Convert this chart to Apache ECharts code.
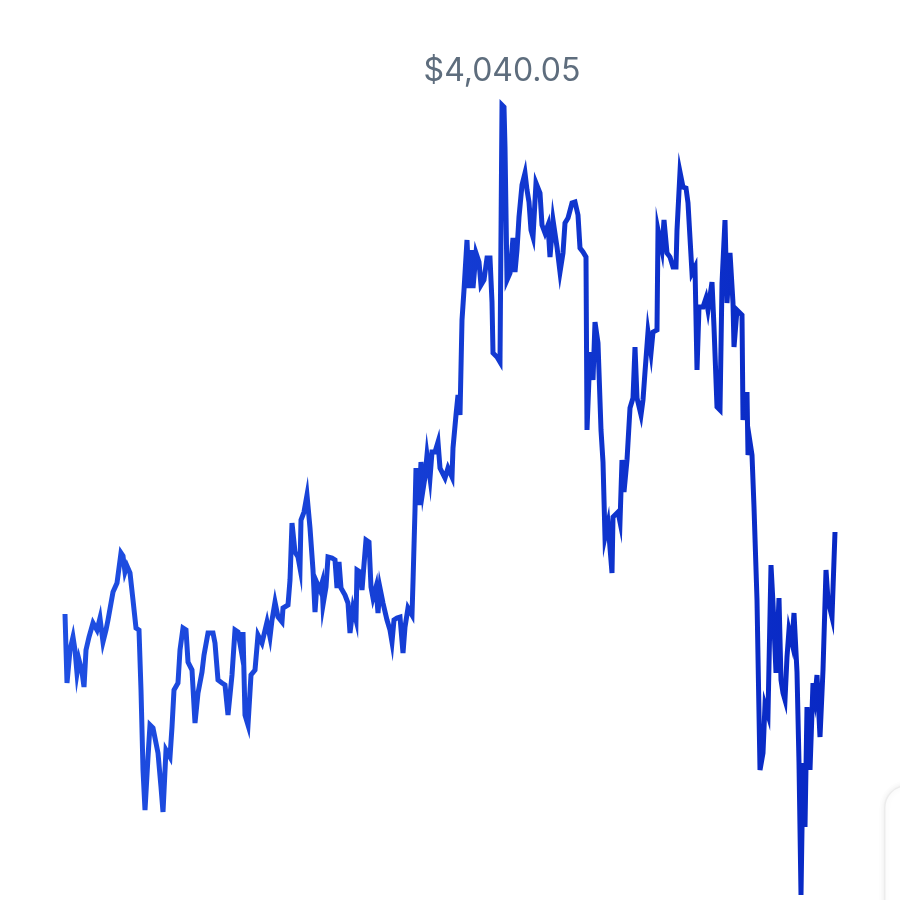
<!DOCTYPE html>
<html>
<head>
<meta charset="utf-8">
<script src="https://cdn.jsdelivr.net/npm/echarts@6/dist/echarts.min.js"></script>
<style>
  html, body { margin: 0; padding: 0; background: #ffffff; }
  #chart { width: 900px; height: 900px; }
</style>
</head>
<body>
<div id="chart"></div>
<script>
const days = [
  0, 2, 5, 8, 10, 12, 14, 17, 19, 21, 24, 28, 32, 35, 38, 41, 43, 48, 52, 56,
  58, 60, 62, 65, 68, 71, 74, 76, 78, 80, 83, 85, 88, 90, 93, 96, 98, 101, 105, 107,
  109, 113, 115, 118, 121, 123, 127, 130, 133, 137, 139, 143, 148, 150, 153, 157, 160, 163, 167, 170,
  173, 177, 178, 180, 183, 186, 190, 193, 197, 202, 205, 207, 210, 213, 217, 218, 223, 225, 227, 228,
  230, 233, 235, 236, 239, 242, 244, 245, 248, 250, 252, 255, 257, 258, 261, 263, 267, 270, 272, 274,
  276, 280, 283, 285, 288, 291, 292, 295, 297, 298, 301, 304, 306, 308, 311, 313, 315, 318, 320, 322,
  325, 327, 329, 332, 335, 338, 340, 343, 347, 348, 350, 351, 354, 356, 358, 360, 362, 365, 367, 370,
  373, 375, 380, 383, 387, 388, 391, 393, 395, 397, 399, 402, 404, 407, 408, 411, 414, 416, 419, 422,
  425, 427, 428, 432, 435, 437, 439, 440, 442, 445, 448, 450, 452, 454, 457, 460, 462, 464, 466, 468,
  471, 473, 475, 477, 480, 483, 485, 488, 490, 492, 495, 498, 500, 503, 507, 510, 513, 515, 518, 521,
  522, 525, 528, 530, 533, 536, 538, 540, 543, 547, 548, 553, 555, 557, 559, 562, 565, 568, 570, 572,
  576, 578, 580, 583, 586, 588, 592, 593, 597, 599, 602, 605, 608, 611, 612, 615, 618, 621, 623, 627,
  630, 632, 634, 638, 641, 643, 647, 649, 652, 655, 657, 660, 662, 665, 668, 669, 672, 674, 677, 678,
  682, 683, 685, 687, 689, 692, 695, 698, 700, 703, 706, 708, 711, 714, 716, 718, 720, 722, 724, 727,
  729, 732, 734, 736, 738, 740, 742, 745, 748, 750, 752, 755, 758, 761, 763, 767, 770
];
// Price in USD at each sampled day
const prices = [
  3022, 2884, 2950, 2976, 2950, 2904, 2930, 2906, 2876, 2950, 2976, 3004, 2990, 3014, 2966, 2990, 3010, 3066, 3084, 3144,
  3138, 3106, 3118, 3104, 3050, 2994, 2990, 2870, 2710, 2630, 2736, 2800, 2794, 2796, 2744, 2676, 2626, 2750, 2736, 2796,
  2870, 2884, 2950, 2994, 2990, 2926, 2910, 2804, 2864, 2906, 2940, 2984, 2984, 2964, 2890, 2884, 2880, 2820, 2900, 2990,
  2986, 2940, 2986, 2820, 2800, 2900, 2910, 2980, 2964, 3006, 2976, 3010, 3046, 3016, 3006, 3034, 3040, 3090, 3204, 3200,
  3146, 3136, 3114, 3210, 3226, 3260, 3260, 3194, 3110, 3026, 3084, 3070, 3084, 3040, 3076, 3136, 3134, 3130, 3074, 3126,
  3074, 3060, 3044, 2984, 3034, 3010, 3110, 3106, 3070, 3096, 3170, 3166, 3076, 3054, 3076, 3024, 3074, 3044, 3044, 3010,
  2990, 2966, 3010, 3014, 3016, 2944, 2996, 3034, 3020, 3086, 3230, 3314, 3240, 3326, 3270, 3296, 3340, 3294, 3346, 3346,
  3366, 3314, 3294, 3314, 3296, 3354, 3420, 3460, 3420, 3610, 3670, 3770, 3674, 3750, 3674, 3744, 3726, 3680, 3690, 3734,
  3734, 3646, 3544, 3536, 3526, 4040.05, 4036, 3956, 3690, 3704, 3774, 3706, 3750, 3816, 3880, 3904, 3870, 3846, 3790, 3776,
  3884, 3880, 3864, 3800, 3784, 3800, 3736, 3810, 3814, 3756, 3706, 3744, 3804, 3814, 3844, 3846, 3820, 3754, 3746, 3736,
  3390, 3546, 3490, 3606, 3564, 3390, 3326, 3176, 3204, 3104, 3216, 3226, 3206, 3330, 3266, 3330, 3434, 3454, 3556, 3454,
  3420, 3450, 3506, 3586, 3544, 3586, 3590, 3790, 3750, 3810, 3744, 3736, 3716, 3716, 3790, 3906, 3876, 3874, 3844, 3704,
  3716, 3510, 3636, 3636, 3654, 3630, 3686, 3596, 3436, 3430, 3684, 3810, 3644, 3744, 3644, 3556, 3630, 3626, 3620, 3410,
  3466, 3340, 3366, 3340, 3236, 3050, 2710, 2744, 2840, 2820, 3120, 3044, 2904, 3054, 2890, 2864, 2850, 2936, 2990, 2964,
  3024, 2906, 2724, 2460, 2724, 2596, 2836, 2710, 2884, 2856, 2900, 2776, 2910, 3110, 3050, 3016, 3186
];

const seriesData = days.map((d, i) => [d, prices[i]]);
const maxPrice = Math.max(...prices);
const minPrice = Math.min(...prices);

const fmtUsd = v => '$' + Number(v).toLocaleString('en-US', { minimumFractionDigits: 2, maximumFractionDigits: 2 });

const chart = echarts.init(document.getElementById('chart'), null, { renderer: 'canvas' });
chart.setOption({
  backgroundColor: '#ffffff',
  animation: false,
  grid: { left: 65, right: 65, top: 105, bottom: 5 },
  xAxis: {
    type: 'value',
    min: days[0],
    max: days[days.length - 1],
    show: false
  },
  yAxis: {
    type: 'value',
    min: minPrice,
    max: maxPrice,
    show: false
  },
  graphic: [{
    type: 'rect',
    left: 884,
    top: 785,
    shape: { width: 120, height: 200, r: 22 },
    style: { fill: '#ffffff', stroke: '#ececec', lineWidth: 1.5, shadowBlur: 6, shadowColor: 'rgba(0,0,0,0.08)' },
    silent: true
  }],
  series: [{
    type: 'line',
    data: seriesData,
    showSymbol: false,
    symbol: 'none',
    clip: false,
    smooth: false,
    lineStyle: {
      width: 5,
      join: 'miter',
      color: new echarts.graphic.LinearGradient(0, 0, 1, 0, [
        { offset: 0, color: '#1F4FE2' },
        { offset: 1, color: '#0828C4' }
      ])
    },
    markPoint: {
      symbol: 'circle',
      symbolSize: 0,
      itemStyle: { color: 'rgba(0,0,0,0)' },
      data: [{ type: 'max' }],
      label: {
        show: true,
        position: 'inside',
        offset: [0, -34],
        formatter: p => fmtUsd(p.value),
        fontFamily: 'Inter, "Noto Sans", sans-serif',
        fontSize: 32,
        fontWeight: 400,
        color: '#5E6D7D'
      }
    }
  }]
});
</script>
</body>
</html>
